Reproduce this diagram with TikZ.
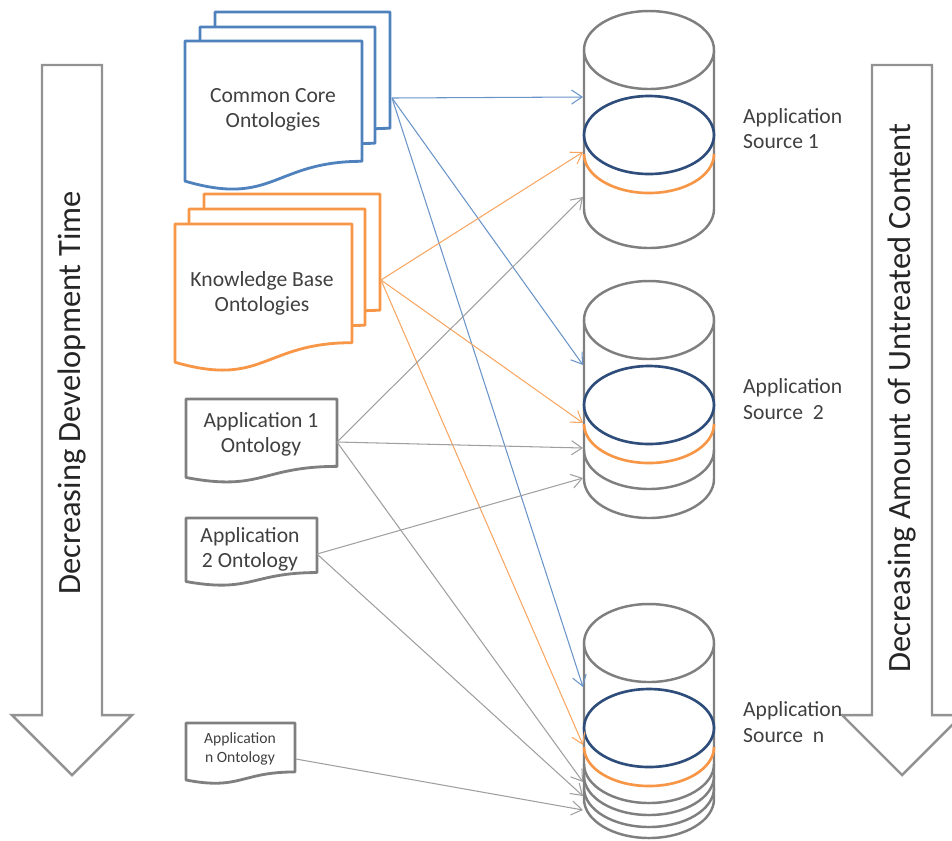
\documentclass[tikz,border=0pt]{standalone}
\usepackage{fontspec}
\setmainfont{Carlito}
\usepackage{tikz}
\usetikzlibrary{calc, arrows.meta}

\definecolor{docblue}{HTML}{4F81BD}
\definecolor{docorange}{HTML}{F79646}
\definecolor{docgray}{HTML}{7F7F7F}
\definecolor{ringblue}{HTML}{2E4D7B}
\definecolor{txtgray}{HTML}{404040}

% feuille "document" (x, y, largeur, hauteur, couleur)
\newcommand\docsheet[5]{%
  \pgfmathsetmacro\shR{#1+#3}\pgfmathsetmacro\shM{#1+0.5*#3}%
  \pgfmathsetmacro\shA{#2+0.802*#4}\pgfmathsetmacro\shB{#2+1.107*#4}\pgfmathsetmacro\shC{#2+0.934*#4}%
  \draw[sheet, draw=#5] (#1,#2) -- (\shR,#2) -- (\shR,\shA)
    .. controls (\shM,\shA) and (\shM,\shB) .. (#1,\shC) -- cycle;}

% cylindre (centre x, centre haut, centre bas)
\newcommand\dbcyl[3]{%
  \draw[cyl] (#1-65,#2) -- (#1-65,#3) arc (180:0:65 and 39) -- (#1+65,#2);
  \draw[cyl] (#1,#2) ellipse (65 and 39);}

\begin{document}
\begin{tikzpicture}[x=0.02cm, y=-0.02cm,
    sheet/.style={line width=1.6pt, fill=white, line join=round},
    cyl/.style={line width=1.4pt, draw=docgray, fill=white},
    ring/.style={line width=1.5pt},
    bigarrow/.style={line width=1.4pt, draw=docgray!85, fill=white},
    feed/.style={line width=0.6pt, -{Straight Barb[length=6pt, width=8pt]}},
    doclabel/.style={font=\fontsize{12.3}{14.3}\selectfont, text=txtgray, align=center},
    srclabel/.style={font=\fontsize{12.3}{14.3}\selectfont, text=txtgray, align=left, anchor=west},
    sidelabel/.style={font=\fontsize{18.5}{20}\selectfont, text=black!85, rotate=90}]
  \useasboundingbox (0,0) rectangle (952,840);

  % Grandes flèches latérales
  \draw[bigarrow] (42,65) -- (102,65) -- (102,715) -- (132,715) -- (72,775)
    -- (12,715) -- (42,715) -- cycle;
  \node[sidelabel] (devtime) at (72,393) {Decreasing Development Time};
  \draw[bigarrow] (872,65) -- (932,65) -- (932,715) -- (962,715) -- (902,775)
    -- (842,715) -- (872,715) -- cycle;
  \node[sidelabel] (untreated) at (902,398) {Decreasing Amount of Untreated Content};

  % Ontologies communes (pile de trois feuilles)
  \docsheet{215}{12}{175}{145}{docblue}
  \docsheet{200}{27}{175}{145}{docblue}
  \docsheet{185}{41}{177}{150}{docblue}
  \node[doclabel] (cco) at (273,110) {Common Core\\Ontologies};

  % Ontologies de la base de connaissances
  \docsheet{204}{194}{176}{145}{docorange}
  \docsheet{189}{209}{176}{145}{docorange}
  \docsheet{175}{224}{177}{148}{docorange}
  \node[doclabel] (kbo) at (262,293) {Knowledge Base\\Ontologies};

  % Ontologies d'application
  \docsheet{186}{399}{151}{84}{docgray}
  \node[doclabel] (ao1) at (261,434) {Application 1\\Ontology};
  \docsheet{186}{518}{131}{68}{docgray}
  \node[doclabel] (ao2) at (250,549) {Application\\2 Ontology};
  \docsheet{186}{723}{109}{61}{docgray}
  \node[doclabel, font=\fontsize{8.9}{10.5}\selectfont] (aon) at (240,749) {Application\\n Ontology};

  % Sources d'application
  \dbcyl{649}{50}{209}
  \draw[ring, docorange] (584,154) arc (180:0:65 and 39);
  \draw[ring, ringblue] (649,135) ellipse (65 and 39);
  \node[srclabel] (src1) at (737,129) {Application\\Source 1};

  \dbcyl{649}{320}{479}
  \draw[cyl, fill=none] (584,450) arc (180:0:65 and 39);
  \draw[ring, docorange] (584,424) arc (180:0:65 and 39);
  \draw[ring, ringblue] (649,405) ellipse (65 and 39);
  \node[srclabel] (src2) at (737,399) {Application\\Source \ 2};

  \dbcyl{649}{643}{799}
  \foreach \yy in {764,776,788}
    \draw[cyl, fill=none] (584,\yy) arc (180:0:65 and 39);
  \draw[ring, docorange] (584,747) arc (180:0:65 and 39);
  \draw[ring, ringblue] (649,728) ellipse (65 and 39);
  \node[srclabel] (srcn) at (737,722) {Application\\Source \ n};

  % Points de départ et d'arrivée des liens
  \coordinate (ccoport) at (392,98);
  \coordinate (kboport) at (381,280);
  \coordinate (ao1port) at (337,442);
  \coordinate (ao2port) at (317,554);
  \coordinate (aonport) at (296,759);
  \coordinate (s1b) at (583,97);  \coordinate (s1o) at (583,152); \coordinate (s1g) at (583,197);
  \coordinate (s2b) at (583,365); \coordinate (s2o) at (583,423);
  \coordinate (s2g) at (583,448); \coordinate (s2h) at (583,478);
  \coordinate (s3b) at (583,687); \coordinate (s3o) at (583,745);
  \coordinate (s3g) at (583,782); \coordinate (s3h) at (583,796); \coordinate (s3k) at (583,810);

  % Liens
  \foreach \tgt in {s1b, s2b, s3b}
    \draw[feed, docblue!85] (ccoport) -- (\tgt);
  \foreach \tgt in {s1o, s2o, s3o}
    \draw[feed, docorange!85] (kboport) -- (\tgt);
  \foreach \tgt in {s1g, s2g, s3g}
    \draw[feed, docgray!75] (ao1port) -- (\tgt);
  \foreach \tgt in {s2h, s3h}
    \draw[feed, docgray!75] (ao2port) -- (\tgt);
  \draw[feed, docgray!75] (aonport) -- (s3k);
\end{tikzpicture}
\end{document}
